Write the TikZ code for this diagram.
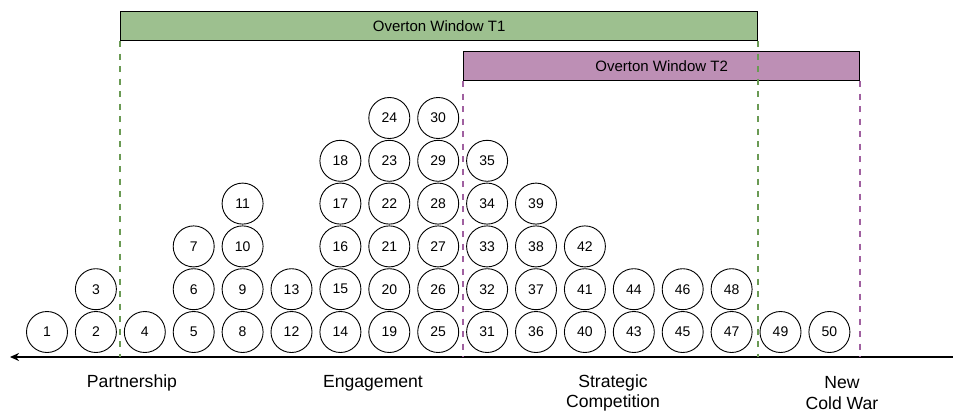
\documentclass[tikz,border=0pt]{standalone}
\usepackage{fontspec}
\setmainfont{Liberation Sans}
\usetikzlibrary{arrows.meta}
\definecolor{wingreen}{RGB}{157,192,143}
\definecolor{winpurple}{RGB}{189,143,181}
\definecolor{dashgreen}{RGB}{106,154,84}
\definecolor{dashpurple}{RGB}{160,96,160}
\tikzset{ball/.style = {draw, circle, line width=0.9pt, minimum size=41pt, inner sep=0pt,
                        font=\fontsize{14}{16}\selectfont},
         window/.style = {draw, line width=1.2pt, anchor=north west, minimum height=29pt,
                          inner sep=0pt, font=\fontsize{15}{18}\selectfont},
         edge/.style = {line width=1.5pt, dash pattern=on 6pt off 6.5pt},
         era/.style = {align=center, font=\fontsize{17.6}{20.5}\selectfont}}

\begin{document}
\begin{tikzpicture}[x=1pt, y=-1pt]
\useasboundingbox (0,0) rectangle (953,412);
% windows
\node[window, fill=wingreen, minimum width=637pt] (wone) at (120,11) {Overton Window T1};
\node[window, fill=winpurple, minimum width=396pt] (wtwo) at (463,51) {Overton Window T2};
% axis
\coordinate (axr) at (953,357);
\coordinate (axl) at (10,357);
\draw[line width=2.6pt, -{Stealth[length=9pt,width=8pt]}] (axr) -- (axl);
% columns of circles: column/first number/height
\foreach \col/\first/\h in {0/1/1, 1/2/2, 2/4/1, 3/5/3, 4/8/4, 5/12/2, 6/14/5, 7/19/6, 8/25/6,
                            9/31/5, 10/36/4, 11/40/3, 12/43/2, 13/45/2, 14/47/2, 15/49/1, 16/50/1}
  \foreach \r in {1,...,\h} {
    \pgfmathtruncatemacro{\num}{\first+\r-1}
    \node[ball] (c\num) at (47+48.9*\col, 332-42.8*\r+42.8) {\num};
  }
% window edges
\draw[edge, dashgreen] (wone.south west) -- (wone.south west |- axl);
\draw[edge, dashgreen] (wone.south east) -- (wone.south east |- axl);
\draw[edge, dashpurple] (wtwo.south west) -- (wtwo.south west |- axl);
\draw[edge, dashpurple] (wtwo.south east) -- (wtwo.south east |- axl);
% eras
\node[era] (partner) at (132,383) {Partnership};
\node[era] (engage) at (373,383) {Engagement};
\node[era] (strat) at (613,393) {Strategic\\Competition};
\node[era] (coldwar) at (842,393) {New\\Cold War};
\end{tikzpicture}
\end{document}
